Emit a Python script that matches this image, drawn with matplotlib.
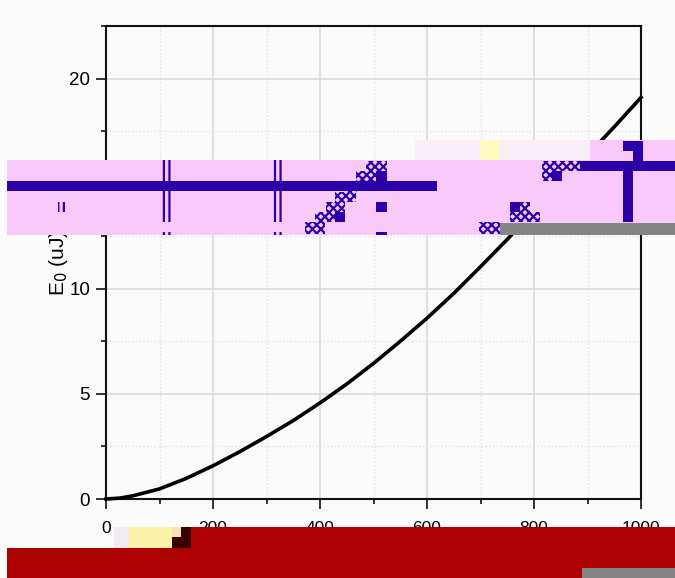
#!/usr/bin/env python3
"""Pulse energy curve, with the damaged bands of the source image on top."""

import matplotlib.pyplot as plt
from matplotlib.patches import Rectangle
from matplotlib.ticker import MultipleLocator

# Data
x_values = [0, 25, 50, 100, 150, 200, 250, 300, 350, 400, 450, 500, 550, 600, 650, 700, 750, 800, 850, 900, 950, 1000]
energy = [0, 0.04, 0.15, 0.48, 0.98, 1.58, 2.25, 2.97, 3.73, 4.57, 5.47, 6.45, 7.5, 8.6, 9.78, 11.05, 12.35, 13.7, 15.0, 16.35, 17.7, 19.1]
x_ticks = [0, 200, 400, 600, 800, 1000]
y_ticks = [0, 5, 10, 15, 20]

W, H = 675, 578
plt.rcParams['font.family'] = ['Liberation Sans', 'DejaVu Sans']
plt.rcParams['hatch.linewidth'] = 1.6

fig = plt.figure(figsize=(W / 100, H / 100), dpi=100, facecolor='#fafafa')
ax = fig.add_axes([106 / W, 1 - 499 / H, 535 / W, 473 / H])
ax.set_facecolor('#fafafa')

ax.plot(x_values, energy, color='black', linewidth=2.6, clip_on=False, zorder=3)

ax.set_xlim(0, 1000)
ax.set_ylim(0, 22.5)
ax.set_xticks(x_ticks)
ax.set_yticks(y_ticks)
ax.xaxis.set_minor_locator(MultipleLocator(100))
ax.yaxis.set_minor_locator(MultipleLocator(2.5))
ax.tick_params(which='major', length=7.5, width=1.2, color='#111111')
ax.tick_params(which='minor', length=3.6, width=1.2, color='#111111')
ax.tick_params(axis='x', which='major', labelsize=12.5, pad=8.5)
ax.tick_params(axis='y', which='major', labelsize=13.5, pad=4)
ax.set_ylabel('E$_0$ (uJ)', fontsize=15, labelpad=-1)

ax.grid(True, which='major', color='#d8d8d8', linewidth=1.1)
ax.grid(True, which='minor', color='#e2e2e2', linewidth=1.0, linestyle=':')
ax.set_axisbelow(True)
for spine in ax.spines.values():
    spine.set_linewidth(1.5)
    spine.set_color('#111111')


def block(left, top, right, bottom, color, hatch=None):
    # rectangle given in image pixels, drawn over the axes
    if hatch:
        fig.add_artist(Rectangle((left / W, 1 - bottom / H), (right - left) / W, (bottom - top) / H,
                                 transform=fig.transFigure, facecolor='none', edgecolor=color,
                                 hatch=hatch, linewidth=0, zorder=11))
    else:
        fig.add_artist(Rectangle((left / W, 1 - bottom / H), (right - left) / W, (bottom - top) / H,
                                 transform=fig.transFigure, facecolor=color, edgecolor='none', zorder=10))


# Damaged areas of the source image
PINK, BLUE, GREY, RED = '#f9caf9', '#2a00a8', '#858585', '#ad0000'
block(7, 160, 675, 235, PINK)
block(415, 140, 590, 160, '#f8eef8')
block(480, 140, 500, 160, '#fdfbc0')
block(590, 140, 675, 160, PINK)
block(500, 223, 675, 235, GREY)

# solid runs
block(7, 181, 437, 191, BLUE)
block(580, 161, 675, 171, BLUE)
block(623, 141, 643, 151, BLUE)
block(633, 141, 643, 161, BLUE)
block(623, 161, 633, 222, BLUE)
block(376, 171, 387, 181, BLUE)
block(376, 202, 387, 212, BLUE)
block(376, 232, 387, 235, BLUE)
block(335, 212, 345, 222, BLUE)
block(510, 202, 520, 212, BLUE)
block(552, 171, 562, 181, BLUE)

# striped columns
for left, right in [(162, 171), (273, 283)]:
    block(left, 160, right, 222, BLUE, hatch='|||')
    block(left, 232, right, 235, BLUE, hatch='|||')
block(58, 202, 68, 212, BLUE, hatch='|||')

# checkered runs
for left, top, right, bottom in [(366, 161, 387, 171), (356, 171, 377, 181), (345, 181, 357, 192),
                                 (335, 192, 356, 202), (326, 202, 345, 212), (315, 212, 335, 222),
                                 (305, 222, 325, 234), (542, 161, 580, 171), (542, 171, 552, 181),
                                 (520, 202, 530, 212), (510, 212, 540, 222), (479, 222, 500, 234)]:
    block(left, top, right, bottom, BLUE, hatch='xxxx')

block(191, 527, 675, 548, RED)
block(7, 548, 675, 578, RED)
block(582, 568, 675, 578, GREY)
block(181, 527, 191, 537, '#3a0000')
block(172, 537, 191, 548, '#3a0000')
block(129, 527, 172, 548, '#fdf3a8')
block(172, 527, 181, 537, '#f8e0b8')
block(114, 527, 129, 548, '#f2ecf2')

fig.savefig('out.png', dpi=100, facecolor=fig.get_facecolor())
